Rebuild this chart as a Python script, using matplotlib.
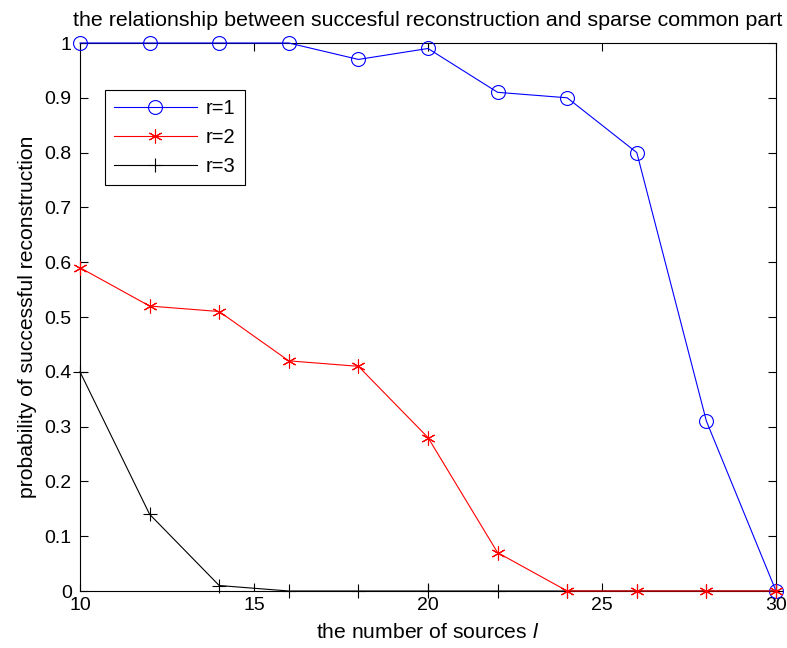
import matplotlib
matplotlib.use("Agg")
import matplotlib.pyplot as plt

plt.rcParams['font.family'] = ['Liberation Sans', 'DejaVu Sans']
plt.rcParams['mathtext.fontset'] = 'custom'
plt.rcParams['mathtext.it'] = 'Liberation Sans:italic'
plt.rcParams['mathtext.rm'] = 'Liberation Sans'

sources = [10, 12, 14, 16, 18, 20, 22, 24, 26, 28, 30]
r1 = [1.0, 1.0, 1.0, 1.0, 0.97, 0.99, 0.91, 0.90, 0.80, 0.31, 0.0]
r2 = [0.59, 0.52, 0.51, 0.42, 0.41, 0.28, 0.07, 0.0, 0.0, 0.0, 0.0]
r3 = [0.40, 0.14, 0.01, 0.0, 0.0, 0.0, 0.0, 0.0, 0.0, 0.0, 0.0]
xticks = [10, 15, 20, 25, 30]
yticks = [0, 0.1, 0.2, 0.3, 0.4, 0.5, 0.6, 0.7, 0.8, 0.9, 1]
ytick_labels = ['0', '0.1', '0.2', '0.3', '0.4', '0.5', '0.6', '0.7', '0.8', '0.9', '1']

fig = plt.figure(figsize=(7.87, 6.48), dpi=100)
ax = fig.add_axes([80/787, 1-591/648, 696/787, 548/648])

ax.plot(sources, r1, color='blue', lw=0.8, marker='o', ms=10, mfc='none', mew=0.8,
        label='r=1', clip_on=False, zorder=3)
ax.plot(sources, r2, color='red', lw=0.8, marker=(6, 2, 0), ms=10, mew=0.8,
        label='r=2', clip_on=False, zorder=4)
ax.plot(sources, r3, color='black', lw=0.8, marker='+', ms=10, mew=0.8,
        label='r=3', clip_on=False, zorder=2)

ax.set_xlim(10, 30)
ax.set_ylim(0, 1)
ax.set_xticks(xticks)
ax.set_yticks(yticks)
ax.set_yticklabels(ytick_labels)
ax.tick_params(direction='in', top=True, right=True, labelsize=14, length=6, width=0.8)
ax.tick_params(axis='y', pad=6)
ax.tick_params(axis='x', pad=4)
for s in ax.spines.values():
    s.set_linewidth(0.8)

ax.set_title('the relationship between succesful reconstruction and sparse common part',
             fontsize=15.4, pad=12)
ax.set_xlabel(r'the number of sources $\mathit{l}$', fontsize=15.2, labelpad=7)
ax.set_ylabel('probability of successful reconstruction', fontsize=15.2, labelpad=5)

leg = ax.legend(loc='upper left', bbox_to_anchor=(0.036, 0.914), borderaxespad=0,
                fontsize=14.5, frameon=True, fancybox=False, edgecolor='black',
                framealpha=1, handlelength=4.1, handletextpad=0.45,
                borderpad=0.45, labelspacing=0.5)
leg.get_frame().set_linewidth(0.8)

fig.savefig('out.png', dpi=100)
